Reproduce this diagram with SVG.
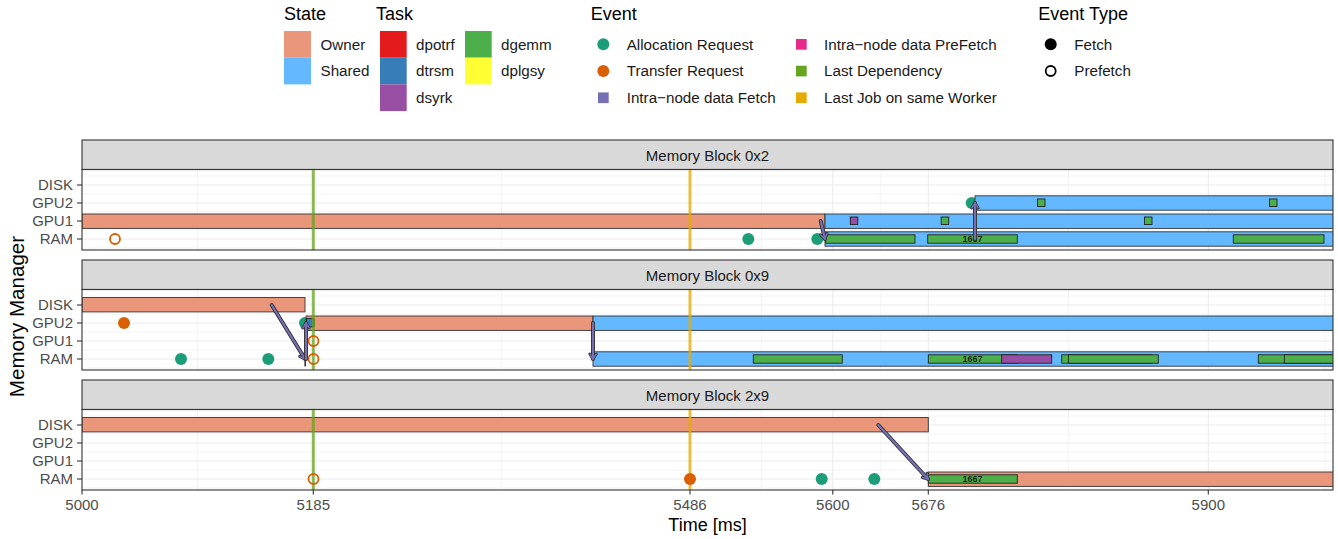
<svg xmlns="http://www.w3.org/2000/svg" width="1338" height="539" viewBox="0 0 1338 539">
<style>
text{font-family:"Liberation Sans",Arial,sans-serif}
.lt{font-size:18px;fill:#000}
.ll{font-size:15.2px;fill:#1a1a1a}
.strip{fill:#D9D9D9;stroke:#333;stroke-width:1.1}
.st{font-size:15px;fill:#1a1a1a;text-anchor:middle}
.pb{fill:none;stroke:#333;stroke-width:1.1}
.gM{stroke:#EBEBEB;stroke-width:1.1}
.gm{stroke:#EBEBEB;stroke-width:0.55}
.yt{font-size:15px;fill:#4D4D4D;text-anchor:end}
.xt{font-size:15px;fill:#4D4D4D;text-anchor:middle}
.tk{stroke:#333;stroke-width:1.1}
.own{fill:#E9967A;stroke:#333;stroke-width:0.9}
.shr{fill:#63B8FF;stroke:#333;stroke-width:0.9}
.dg{fill:#4DAF4A;stroke:#222;stroke-width:0.9}
.sy{fill:#984EA3;stroke:#222;stroke-width:0.9}
.tr{fill:#377EB8;stroke:#222;stroke-width:0.9}
.alloc{fill:#1B9E77}
.xfer{fill:#D95F02}
.xfo{fill:none;stroke:#D95F02;stroke-width:1.8}
.ld{stroke:#66A61E;stroke-opacity:0.75;stroke-width:3}
.lj{stroke:#E6AB02;stroke-opacity:0.75;stroke-width:3}
.ao{fill:none;stroke:#333;stroke-width:4;stroke-linecap:round;marker-end:url(#mo)}
.ai{fill:none;stroke:#7570B3;stroke-width:2.2;stroke-linecap:round;marker-end:url(#mi)}
.lbl{font-size:9px;font-weight:bold;fill:#1a2a1a;text-anchor:middle}
</style>
<defs>
<marker id="mo" markerUnits="userSpaceOnUse" viewBox="-8 -6 10 12" refX="0" refY="0" markerWidth="10" markerHeight="12" orient="auto" overflow="visible">
<path d="M-5,-3.2 L0,0 L-5,3.2" fill="none" stroke="#333" stroke-width="3" stroke-linejoin="round" stroke-linecap="round"/>
</marker>
<marker id="mi" markerUnits="userSpaceOnUse" viewBox="-8 -6 10 12" refX="0" refY="0" markerWidth="10" markerHeight="12" orient="auto" overflow="visible">
<path d="M-5,-3.2 L0,0 L-5,3.2" fill="none" stroke="#7570B3" stroke-width="1.4" stroke-linejoin="round" stroke-linecap="round"/>
</marker>
<clipPath id="c1"><rect x="82" y="169.5" width="1251" height="80.5"/></clipPath>
<clipPath id="c2"><rect x="82" y="289.5" width="1251" height="80.5"/></clipPath>
<clipPath id="c3"><rect x="82" y="409.5" width="1251" height="80.5"/></clipPath>
</defs>
<rect width="1338" height="539" fill="#fff"/>

<!-- Legend -->
<g id="legend-state">
<text class="lt" x="284" y="20">State</text>
<rect x="284" y="31" width="27" height="26.7" fill="#E9967A"/>
<rect x="284" y="57.7" width="27" height="26.7" fill="#63B8FF"/>
<text class="ll" x="320.5" y="49.7">Owner</text>
<text class="ll" x="320.5" y="76.4">Shared</text>
</g>
<g id="legend-task">
<text class="lt" x="376" y="20">Task</text>
<rect x="380" y="31" width="26.7" height="26.7" fill="#E41A1C"/>
<rect x="380" y="57.7" width="26.7" height="26.7" fill="#377EB8"/>
<rect x="380" y="84.4" width="26.7" height="26.7" fill="#984EA3"/>
<text class="ll" x="416" y="49.7">dpotrf</text>
<text class="ll" x="416" y="76.4">dtrsm</text>
<text class="ll" x="416" y="103.1">dsyrk</text>
<rect x="465" y="31" width="26.7" height="26.7" fill="#4DAF4A"/>
<rect x="465" y="57.7" width="26.7" height="26.7" fill="#FFFF33"/>
<text class="ll" x="501" y="49.7">dgemm</text>
<text class="ll" x="501" y="76.4">dplgsy</text>
</g>
<g id="legend-event">
<text class="lt" x="590.7" y="20">Event</text>
<circle cx="603.3" cy="44.3" r="6" fill="#1B9E77"/>
<circle cx="603.3" cy="71" r="6" fill="#D95F02"/>
<rect x="598" y="92.4" width="10.7" height="10.7" fill="#7570B3"/>
<text class="ll" x="626.7" y="49.7">Allocation Request</text>
<text class="ll" x="626.7" y="76.4">Transfer Request</text>
<text class="ll" x="626.7" y="103.1">Intra−node data Fetch</text>
<rect x="796" y="39" width="10.7" height="10.7" fill="#E7298A"/>
<rect x="796" y="65.7" width="10.7" height="10.7" fill="#66A61E"/>
<rect x="796" y="92.4" width="10.7" height="10.7" fill="#E6AB02"/>
<text class="ll" x="824" y="49.7">Intra−node data PreFetch</text>
<text class="ll" x="824" y="76.4">Last Dependency</text>
<text class="ll" x="824" y="103.1">Last Job on same Worker</text>
</g>
<g id="legend-eventtype">
<text class="lt" x="1038.3" y="20">Event Type</text>
<circle cx="1050.7" cy="44.3" r="6" fill="#000"/>
<circle cx="1050.7" cy="71" r="5" fill="none" stroke="#000" stroke-width="1.8"/>
<text class="ll" x="1074.3" y="49.7">Fetch</text>
<text class="ll" x="1074.3" y="76.4">Prefetch</text>
</g>

<!-- Panel 1 -->
<g id="panel-0x2">
<rect class="strip" x="82" y="140" width="1251" height="29.5"/>
<text class="st" x="707.5" y="160.5">Memory Block 0x2</text>
<g>
<line class="gm" x1="82" x2="1333" y1="176" y2="176"/><line class="gm" x1="82" x2="1333" y1="194" y2="194"/><line class="gm" x1="82" x2="1333" y1="212" y2="212"/><line class="gm" x1="82" x2="1333" y1="230" y2="230"/><line class="gm" x1="82" x2="1333" y1="248" y2="248"/>
<line class="gm" x1="197.5" x2="197.5" y1="169.5" y2="250"/><line class="gm" x1="501.6" x2="501.6" y1="169.5" y2="250"/><line class="gm" x1="761.3" x2="761.3" y1="169.5" y2="250"/><line class="gm" x1="880.3" x2="880.3" y1="169.5" y2="250"/><line class="gm" x1="1068.3" x2="1068.3" y1="169.5" y2="250"/><line class="gm" x1="1325" x2="1325" y1="169.5" y2="250"/>
<line class="gM" x1="82" x2="1333" y1="185" y2="185"/><line class="gM" x1="82" x2="1333" y1="203" y2="203"/><line class="gM" x1="82" x2="1333" y1="221" y2="221"/><line class="gM" x1="82" x2="1333" y1="239" y2="239"/>
<line class="gM" x1="313.3" x2="313.3" y1="169.5" y2="250"/><line class="gM" x1="690" x2="690" y1="169.5" y2="250"/><line class="gM" x1="832.8" x2="832.8" y1="169.5" y2="250"/><line class="gM" x1="928.3" x2="928.3" y1="169.5" y2="250"/><line class="gM" x1="1208.3" x2="1208.3" y1="169.5" y2="250"/>
</g>
<g clip-path="url(#c1)">
<circle class="alloc" cx="748.3" cy="239" r="6"/>
<circle class="alloc" cx="817.3" cy="239" r="6"/>
<circle class="alloc" cx="971.7" cy="203" r="6"/>
<rect class="own" x="82" y="214" width="743" height="14.4"/>
<rect class="shr" x="825" y="214" width="510" height="14.4"/>
<rect class="shr" x="825" y="231.8" width="510" height="14.4"/>
<rect class="shr" x="975" y="195.8" width="360" height="14.4"/>
<rect class="sy" x="850.3" y="217" width="7.5" height="7.5"/>
<rect class="dg" x="941.2" y="217" width="7.5" height="7.5"/>
<rect class="dg" x="1144.5" y="217" width="7.5" height="7.5"/>
<rect class="dg" x="1037.5" y="199" width="7.5" height="7.5"/>
<rect class="dg" x="1269.5" y="199" width="7.5" height="7.5"/>
<rect class="dg" x="825.7" y="234.8" width="89.3" height="8.4"/>
<rect class="dg" x="927.7" y="234.8" width="89.6" height="8.4"/>
<rect class="dg" x="1233.3" y="234.8" width="90.7" height="8.4"/>
<text class="lbl" x="972.5" y="242.3">1667</text>
<line class="ld" x1="313.3" x2="313.3" y1="169.5" y2="250"/>
<line class="lj" x1="690" x2="690" y1="169.5" y2="250"/>
<circle class="xfo" cx="115" cy="239" r="5"/>
</g>
<rect class="pb" x="82" y="169.5" width="1251" height="80.5"/>
<g class="tk"><line x1="77" x2="82" y1="185" y2="185"/><line x1="77" x2="82" y1="203" y2="203"/><line x1="77" x2="82" y1="221" y2="221"/><line x1="77" x2="82" y1="239" y2="239"/></g>
<text class="yt" x="73" y="190.3">DISK</text><text class="yt" x="73" y="208.3">GPU2</text><text class="yt" x="73" y="226.3">GPU1</text><text class="yt" x="73" y="244.3">RAM</text>
</g>

<!-- Panel 2 -->
<g id="panel-0x9">
<rect class="strip" x="82" y="260" width="1251" height="29.5"/>
<text class="st" x="707.5" y="280.5">Memory Block 0x9</text>
<g>
<line class="gm" x1="82" x2="1333" y1="296" y2="296"/><line class="gm" x1="82" x2="1333" y1="314" y2="314"/><line class="gm" x1="82" x2="1333" y1="332" y2="332"/><line class="gm" x1="82" x2="1333" y1="350" y2="350"/><line class="gm" x1="82" x2="1333" y1="368" y2="368"/>
<line class="gm" x1="197.5" x2="197.5" y1="289.5" y2="370"/><line class="gm" x1="501.6" x2="501.6" y1="289.5" y2="370"/><line class="gm" x1="761.3" x2="761.3" y1="289.5" y2="370"/><line class="gm" x1="880.3" x2="880.3" y1="289.5" y2="370"/><line class="gm" x1="1068.3" x2="1068.3" y1="289.5" y2="370"/><line class="gm" x1="1325" x2="1325" y1="289.5" y2="370"/>
<line class="gM" x1="82" x2="1333" y1="305" y2="305"/><line class="gM" x1="82" x2="1333" y1="323" y2="323"/><line class="gM" x1="82" x2="1333" y1="341" y2="341"/><line class="gM" x1="82" x2="1333" y1="359" y2="359"/>
<line class="gM" x1="313.3" x2="313.3" y1="289.5" y2="370"/><line class="gM" x1="690" x2="690" y1="289.5" y2="370"/><line class="gM" x1="832.8" x2="832.8" y1="289.5" y2="370"/><line class="gM" x1="928.3" x2="928.3" y1="289.5" y2="370"/><line class="gM" x1="1208.3" x2="1208.3" y1="289.5" y2="370"/>
</g>
<g clip-path="url(#c2)">
<circle class="xfer" cx="124" cy="323" r="6"/>
<circle class="alloc" cx="181" cy="359" r="6"/>
<circle class="alloc" cx="268.3" cy="359" r="6"/>
<circle class="alloc" cx="305" cy="323" r="6"/>
<rect class="own" x="82" y="297.5" width="223" height="14.4"/>
<rect class="own" x="306" y="316" width="287" height="14.4"/>
<rect class="shr" x="593" y="316" width="742" height="14.4"/>
<rect class="shr" x="593" y="351.8" width="742" height="14.4"/>
<rect x="304.4" y="352" width="1.6" height="14.4" fill="#333"/>
<rect class="tr" x="306.5" y="318.5" width="7.5" height="8.5"/>
<rect class="dg" x="753.3" y="354.8" width="89" height="8.4"/>
<rect class="dg" x="928.3" y="354.8" width="88.7" height="8.4"/>
<rect class="sy" x="1001.7" y="354.8" width="50" height="8.4"/>
<rect class="dg" x="1061.7" y="354.8" width="90" height="8.4"/>
<rect class="dg" x="1068.3" y="354.8" width="90" height="8.4"/>
<rect class="dg" x="1258.3" y="354.8" width="90" height="8.4"/>
<rect class="dg" x="1284.3" y="354.8" width="90" height="8.4"/>
<text class="lbl" x="972.5" y="362.3">1667</text>
<line class="ld" x1="313.3" x2="313.3" y1="289.5" y2="370"/>
<line class="lj" x1="690" x2="690" y1="289.5" y2="370"/>
<circle class="xfo" cx="313.5" cy="341" r="5"/>
<circle class="xfo" cx="313.5" cy="359" r="5"/>
</g>
<rect class="pb" x="82" y="289.5" width="1251" height="80.5"/>
<g class="tk"><line x1="77" x2="82" y1="305" y2="305"/><line x1="77" x2="82" y1="323" y2="323"/><line x1="77" x2="82" y1="341" y2="341"/><line x1="77" x2="82" y1="359" y2="359"/></g>
<text class="yt" x="73" y="310.3">DISK</text><text class="yt" x="73" y="328.3">GPU2</text><text class="yt" x="73" y="346.3">GPU1</text><text class="yt" x="73" y="364.3">RAM</text>
</g>

<!-- Panel 3 -->
<g id="panel-2x9">
<rect class="strip" x="82" y="380" width="1251" height="29.5"/>
<text class="st" x="707.5" y="400.5">Memory Block 2x9</text>
<g>
<line class="gm" x1="82" x2="1333" y1="416" y2="416"/><line class="gm" x1="82" x2="1333" y1="434" y2="434"/><line class="gm" x1="82" x2="1333" y1="452" y2="452"/><line class="gm" x1="82" x2="1333" y1="470" y2="470"/><line class="gm" x1="82" x2="1333" y1="488" y2="488"/>
<line class="gm" x1="197.5" x2="197.5" y1="409.5" y2="490"/><line class="gm" x1="501.6" x2="501.6" y1="409.5" y2="490"/><line class="gm" x1="761.3" x2="761.3" y1="409.5" y2="490"/><line class="gm" x1="880.3" x2="880.3" y1="409.5" y2="490"/><line class="gm" x1="1068.3" x2="1068.3" y1="409.5" y2="490"/><line class="gm" x1="1325" x2="1325" y1="409.5" y2="490"/>
<line class="gM" x1="82" x2="1333" y1="425" y2="425"/><line class="gM" x1="82" x2="1333" y1="443" y2="443"/><line class="gM" x1="82" x2="1333" y1="461" y2="461"/><line class="gM" x1="82" x2="1333" y1="479" y2="479"/>
<line class="gM" x1="313.3" x2="313.3" y1="409.5" y2="490"/><line class="gM" x1="690" x2="690" y1="409.5" y2="490"/><line class="gM" x1="832.8" x2="832.8" y1="409.5" y2="490"/><line class="gM" x1="928.3" x2="928.3" y1="409.5" y2="490"/><line class="gM" x1="1208.3" x2="1208.3" y1="409.5" y2="490"/>
</g>
<g clip-path="url(#c3)">
<circle class="alloc" cx="821.7" cy="479" r="6"/>
<circle class="alloc" cx="874.3" cy="479" r="6"/>
<rect class="own" x="82" y="417.5" width="846.3" height="14.4"/>
<rect class="own" x="928.3" y="472" width="406" height="14.4"/>
<rect class="dg" x="928.3" y="474.8" width="89" height="8.4"/>
<text class="lbl" x="972.5" y="482.3">1667</text>
<line class="ld" x1="313.3" x2="313.3" y1="409.5" y2="490"/>
<line class="lj" x1="690" x2="690" y1="409.5" y2="490"/>
<circle class="xfo" cx="313.5" cy="479" r="5"/>
<circle class="xfer" cx="690" cy="479" r="6"/>
</g>
<rect class="pb" x="82" y="409.5" width="1251" height="80.5"/>
<g class="tk"><line x1="77" x2="82" y1="425" y2="425"/><line x1="77" x2="82" y1="443" y2="443"/><line x1="77" x2="82" y1="461" y2="461"/><line x1="77" x2="82" y1="479" y2="479"/></g>
<text class="yt" x="73" y="430.3">DISK</text><text class="yt" x="73" y="448.3">GPU2</text><text class="yt" x="73" y="466.3">GPU1</text><text class="yt" x="73" y="484.3">RAM</text>
</g>

<!-- Connectors (intra-node data fetch arrows) -->
<g id="connectors">
<path class="ao" d="M820.7,221 L825,239"/><path class="ai" d="M820.7,221 L825,239"/>
<path class="ao" d="M975,239 L975,203"/><path class="ai" d="M975,239 L975,203"/>
<path class="ao" d="M271.7,305 L305,359"/><path class="ai" d="M271.7,305 L305,359"/>
<path class="ao" d="M306,359 L306,323"/><path class="ai" d="M306,359 L306,323"/>
<path class="ao" d="M593,323 L593,359"/><path class="ai" d="M593,323 L593,359"/>
<path class="ao" d="M878.3,425 L928,479"/><path class="ai" d="M878.3,425 L928,479"/>
</g>

<!-- X axis -->
<g id="x-axis">
<g class="tk"><line x1="82" x2="82" y1="490" y2="494.6"/><line x1="313.3" x2="313.3" y1="490" y2="494.6"/><line x1="690" x2="690" y1="490" y2="494.6"/><line x1="832.8" x2="832.8" y1="490" y2="494.6"/><line x1="928.3" x2="928.3" y1="490" y2="494.6"/><line x1="1208.3" x2="1208.3" y1="490" y2="494.6"/></g>
<text class="xt" x="82" y="510">5000</text>
<text class="xt" x="313.3" y="510">5185</text>
<text class="xt" x="690" y="510">5486</text>
<text class="xt" x="832.8" y="510">5600</text>
<text class="xt" x="928.3" y="510">5676</text>
<text class="xt" x="1208.3" y="510">5900</text>
<text x="707.5" y="531" font-size="18" fill="#000" text-anchor="middle">Time [ms]</text>
</g>
<text x="0" y="0" font-size="20.6" fill="#000" text-anchor="middle" transform="translate(23.5,316.5) rotate(-90)">Memory Manager</text>
</svg>
